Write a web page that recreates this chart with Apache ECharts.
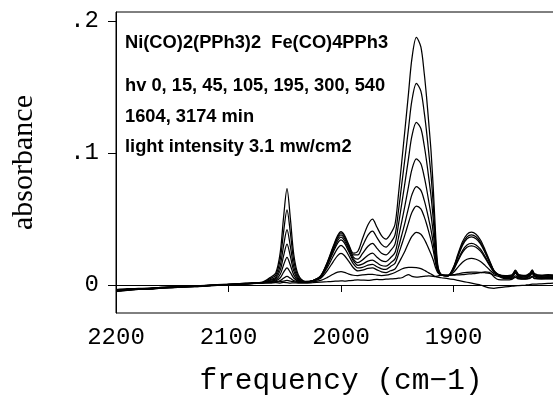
<!DOCTYPE html>
<html>
<head>
<meta charset="utf-8">
<script src="https://cdn.jsdelivr.net/npm/echarts@6/dist/echarts.min.js"></script>
<style>
  html, body { margin: 0; padding: 0; background: #fff; }
  #chart { width: 553px; height: 395px; }
</style>
</head>
<body>
<div id="chart"></div>
<script>
// wavenumbers (cm-1), shared by every trace
var freq = [2200, 2190, 2180, 2170, 2160, 2150, 2140, 2130, 2120, 2110, 2100, 2090, 2080, 2070,
  2063, 2058, 2054, 2051, 2048, 2045, 2042, 2038, 2032,
  2025, 2018, 2012, 2007, 2003, 2000, 1997, 1993, 1989, 1985, 1981, 1976, 1972, 1968, 1964, 1960, 1956, 1952,
  1949, 1946, 1943, 1940, 1937, 1933, 1929, 1926, 1924, 1922, 1920, 1918, 1916, 1914, 1911,
  1905, 1900, 1896, 1892, 1888, 1884, 1880, 1876, 1872, 1868, 1864, 1860,
  1854, 1848, 1845, 1842, 1836, 1832, 1830, 1828, 1822, 1816, 1811];

// absorbance per irradiation time (min)
var abs0 = [-0.0035, -0.0028, -0.0026, -0.0024, -0.0017, -0.0015, -0.0008, -0.0009, -0.0002, 0.0002, 0.0006, 0.0011, 0.0016, 0.0022,
  0.0056, 0.0091, 0.0247, 0.0517, 0.073, 0.0503, 0.0233, 0.0077, 0.0027,
  0.0034, 0.0071, 0.0177, 0.0291, 0.0375, 0.0405, 0.0379, 0.0305, 0.0241, 0.0256, 0.0348, 0.0457, 0.05, 0.0437, 0.0375, 0.0348, 0.0387, 0.0459,
  0.0679, 0.0934, 0.1189, 0.1452, 0.1713, 0.1876, 0.1803, 0.1602, 0.1429, 0.1228, 0.1018, 0.0736, 0.0399, 0.0153, 0.008,
  0.007, 0.0136, 0.0235, 0.0327, 0.0384, 0.04, 0.0384, 0.0341, 0.0268, 0.0186, 0.011, 0.008,
  0.0072, 0.0078, 0.0112, 0.0079, 0.0073, 0.0092, 0.0114, 0.0086, 0.0074, 0.0078, 0.0076];
var abs15 = [-0.0045, -0.0032, -0.0031, -0.003, -0.0019, -0.0019, -0.0012, -0.0011, -0.0004, -0.0001, 0.0005, 0.0009, 0.0013, 0.0019,
  0.0048, 0.0075, 0.0196, 0.0405, 0.057, 0.0394, 0.0185, 0.0064, 0.0026,
  0.0034, 0.0069, 0.0173, 0.0284, 0.0365, 0.0395, 0.0369, 0.0295, 0.0229, 0.0228, 0.0293, 0.0378, 0.0409, 0.0359, 0.0308, 0.0287, 0.032, 0.0379,
  0.0557, 0.0764, 0.097, 0.1185, 0.1396, 0.1528, 0.1469, 0.1306, 0.1166, 0.1003, 0.0833, 0.0607, 0.0336, 0.0139, 0.008,
  0.0072, 0.0132, 0.0225, 0.0312, 0.0365, 0.038, 0.0365, 0.0324, 0.0256, 0.0179, 0.0107, 0.0079,
  0.0068, 0.0074, 0.0108, 0.0075, 0.0069, 0.0086, 0.0109, 0.008, 0.0071, 0.0073, 0.0071];
var abs45 = [-0.0042, -0.0038, -0.0029, -0.0027, -0.0022, -0.0016, -0.0014, -0.0008, -0.0006, 0.0001, 0.0002, 0.0007, 0.0014, 0.0018,
  0.004, 0.006, 0.0148, 0.03, 0.042, 0.0292, 0.014, 0.0052, 0.0024,
  0.0031, 0.0068, 0.0167, 0.0274, 0.0352, 0.038, 0.0355, 0.0282, 0.0212, 0.0196, 0.0237, 0.0294, 0.0316, 0.0278, 0.0241, 0.0229, 0.026, 0.031,
  0.0453, 0.0616, 0.0783, 0.0958, 0.1127, 0.1232, 0.1185, 0.1055, 0.0942, 0.0812, 0.0676, 0.0497, 0.0283, 0.0127, 0.0079,
  0.0071, 0.0129, 0.0218, 0.03, 0.035, 0.0365, 0.035, 0.0312, 0.0247, 0.0173, 0.0105, 0.0078,
  0.0064, 0.0071, 0.0103, 0.007, 0.0066, 0.0082, 0.0104, 0.0076, 0.0066, 0.0068, 0.0066];
var abs105 = [-0.0048, -0.0036, -0.0033, -0.0026, -0.0021, -0.0018, -0.0011, -0.0012, -0.0004, -0.0002, 0.0004, 0.0006, 0.0011, 0.0017,
  0.0035, 0.0049, 0.0113, 0.0223, 0.031, 0.0217, 0.0107, 0.0043, 0.0023,
  0.0033, 0.0065, 0.016, 0.0261, 0.0335, 0.0362, 0.0337, 0.0267, 0.0197, 0.0169, 0.0189, 0.0226, 0.0241, 0.0211, 0.0185, 0.0178, 0.0207, 0.0246,
  0.0356, 0.0481, 0.0609, 0.0745, 0.0874, 0.0955, 0.0919, 0.0819, 0.0733, 0.0634, 0.053, 0.0395, 0.0233, 0.0116, 0.0078,
  0.007, 0.0119, 0.0193, 0.0261, 0.0303, 0.0315, 0.0303, 0.0271, 0.0217, 0.0156, 0.0099, 0.0077,
  0.0059, 0.0066, 0.0098, 0.0066, 0.006, 0.0077, 0.0099, 0.0071, 0.0061, 0.0063, 0.006];
var abs195 = [-0.0038, -0.0034, -0.0028, -0.0029, -0.002, -0.0014, -0.0013, -0.0009, -0.0007, 0, 0.0001, 0.0009, 0.0012, 0.0016,
  0.003, 0.0039, 0.0081, 0.0153, 0.021, 0.0149, 0.0077, 0.0035, 0.0022,
  0.0032, 0.0063, 0.0152, 0.0247, 0.0317, 0.0342, 0.0319, 0.0252, 0.0183, 0.0149, 0.0158, 0.0181, 0.0189, 0.0168, 0.0148, 0.0143, 0.0167, 0.0198,
  0.0283, 0.0378, 0.0477, 0.0584, 0.0683, 0.0745, 0.0717, 0.0641, 0.0575, 0.0498, 0.0418, 0.0317, 0.0195, 0.0108, 0.0077,
  0.0069, 0.0115, 0.0183, 0.0247, 0.0286, 0.0297, 0.0286, 0.0256, 0.0206, 0.0149, 0.0097, 0.0077,
  0.0056, 0.0062, 0.0094, 0.0061, 0.0055, 0.0072, 0.0094, 0.0066, 0.0056, 0.0058, 0.0055];
var abs300 = [-0.0044, -0.0039, -0.0032, -0.0031, -0.0023, -0.0019, -0.0015, -0.001, -0.0005, -0.0001, 0.0003, 0.0007, 0.001, 0.0017,
  0.0026, 0.0031, 0.0055, 0.0097, 0.013, 0.0095, 0.0053, 0.0029, 0.0021,
  0.0031, 0.0058, 0.0135, 0.0218, 0.0278, 0.03, 0.0279, 0.0222, 0.0161, 0.0129, 0.0134, 0.015, 0.0157, 0.0138, 0.0123, 0.0119, 0.0141, 0.0164,
  0.0231, 0.0307, 0.0385, 0.0471, 0.0549, 0.0598, 0.0576, 0.0516, 0.0464, 0.0403, 0.034, 0.0263, 0.0169, 0.0102, 0.0076,
  0.0069, 0.0096, 0.0136, 0.0173, 0.0195, 0.0202, 0.0195, 0.0178, 0.0149, 0.0116, 0.0086, 0.0074,
  0.0052, 0.0057, 0.009, 0.0057, 0.0051, 0.0068, 0.009, 0.0062, 0.0051, 0.0053, 0.005];
var abs540 = [-0.004, -0.0033, -0.003, -0.0025, -0.0018, -0.0017, -0.0012, -0.0008, -0.0003, 0.0001, 0.0004, 0.001, 0.0013, 0.0019,
  0.0022, 0.0025, 0.0034, 0.0052, 0.0065, 0.0051, 0.0034, 0.0024, 0.002,
  0.0029, 0.0051, 0.0111, 0.0176, 0.0223, 0.024, 0.0224, 0.0179, 0.0131, 0.0107, 0.0112, 0.0126, 0.013, 0.0115, 0.01, 0.0094, 0.0108, 0.0121,
  0.0162, 0.021, 0.026, 0.0318, 0.0368, 0.0399, 0.0385, 0.0347, 0.0313, 0.0275, 0.0235, 0.0189, 0.0133, 0.0094, 0.0075,
  0.0072, 0.0078, 0.0085, 0.0092, 0.0096, 0.0098, 0.0097, 0.0095, 0.0093, 0.0088, 0.0075, 0.0065,
  0.0048, 0.005, 0.007, 0.005, 0.0046, 0.0056, 0.0068, 0.0052, 0.0046, 0.0047, 0.0045];
var abs1604 = [-0.005, -0.004, -0.0034, -0.003, -0.0024, -0.002, -0.0016, -0.0013, -0.0008, -0.0003, 0.0001, 0.0006, 0.0011, 0.0016,
  0.002, 0.0022, 0.0026, 0.003, 0.0035, 0.003, 0.0025, 0.002, 0.002,
  0.0024, 0.0035, 0.0058, 0.0082, 0.0097, 0.0101, 0.0096, 0.0083, 0.0074, 0.0072, 0.0076, 0.008, 0.0081, 0.0075, 0.0072, 0.0074, 0.0082, 0.0095,
  0.0108, 0.0121, 0.0129, 0.0133, 0.0134, 0.0131, 0.0124, 0.0112, 0.0102, 0.0092, 0.0083, 0.0073, 0.0065, 0.0068, 0.0074,
  0.0076, 0.0075, 0.0077, 0.0079, 0.0082, 0.0085, 0.0088, 0.0093, 0.0099, 0.0096, 0.0062, 0.0041,
  0.0039, 0.0043, 0.0058, 0.0046, 0.0044, 0.005, 0.0062, 0.0048, 0.0047, 0.0049, 0.005];
var abs3174 = [-0.0046, -0.0037, -0.0031, -0.0028, -0.0021, -0.0016, -0.0014, -0.0011, -0.0006, -0.0002, 0.0002, 0.0008, 0.0012, 0.0015,
  0.0015, 0.0018, 0.0015, 0.002, 0.0018, 0.0015, 0.0017, 0.0015, 0.0015,
  0.0018, 0.0022, 0.0025, 0.0028, 0.003, 0.0031, 0.003, 0.0033, 0.0036, 0.0038, 0.0037, 0.0036, 0.0039, 0.0042, 0.0041, 0.0044, 0.0046, 0.0049,
  0.0052, 0.0055, 0.0068, 0.0079, 0.0066, 0.006, 0.0063, 0.0066, 0.0068, 0.0069, 0.0068, 0.0066, 0.0063, 0.006, 0.0055,
  0.0049, 0.0042, 0.0035, 0.0028, 0.0021, 0.0014, 0.0007, 0, -0.0012, -0.0022, -0.0025, -0.002,
  -0.0014, -0.0009, -0.0006, -0.0004, 0, 0.0003, 0.0006, 0.0006, 0.0009, 0.0012, 0.0014];

var times = ['0', '15', '45', '105', '195', '300', '540', '1604', '3174'];
var traces = [abs0, abs15, abs45, abs105, abs195, abs300, abs540, abs1604, abs3174];
var yTicks = [0, 0.1, 0.2];
var notes = ['Ni(CO)2(PPh3)2  Fe(CO)4PPh3', 'hv 0, 15, 45, 105, 195, 300, 540', '1604, 3174 min', 'light intensity 3.1 mw/cm2'];

var chart = echarts.init(document.getElementById('chart'), null, { renderer: 'canvas' });

var series = traces.map(function (arr, k) {
  return {
    name: times[k] + ' min',
    type: 'line',
    data: freq.map(function (f, i) { return [f, arr[i]]; }),
    showSymbol: false,
    smooth: 0.3,
    lineStyle: { color: '#000', width: 1.25 },
    emphasis: { disabled: true },
    animation: false
  };
});

var noteY = [43, 85.5, 117, 146.5];

var option = {
  animation: false,
  // plot runs past the right edge of the window, like the original
  grid: { left: 116, top: 12, width: 450, height: 301, outerBoundsMode: 'none', containLabel: false,
    show: true, borderColor: '#000', borderWidth: 1 },
  xAxis: {
    type: 'value', inverse: true, min: 1800, max: 2200, interval: 100,
    name: 'frequency (cm\u22121)', nameLocation: 'middle', nameGap: 53,
    nameTextStyle: { fontFamily: 'Liberation Mono', fontSize: 29.5, color: '#000' },
    axisLine: { lineStyle: { color: '#000', width: 1 } },
    axisTick: { length: 7, lineStyle: { color: '#000' } },
    axisLabel: {
      fontFamily: 'Liberation Mono', fontSize: 24, color: '#000', margin: 13,
      formatter: function (v) { return v < 1850 ? '' : String(v); }
    },
    splitLine: { show: false }
  },
  yAxis: {
    type: 'value', min: -0.0212, max: 0.2068,
    name: 'absorbance', nameLocation: 'middle', nameGap: 77,
    nameTextStyle: { fontFamily: 'Liberation Serif', fontSize: 30, color: '#000' },
    axisLine: { show: true, lineStyle: { color: '#000', width: 1 } },
    axisTick: { show: true, length: 8, customValues: yTicks, lineStyle: { color: '#000' } },
    axisLabel: {
      customValues: yTicks, fontFamily: 'Liberation Mono', fontSize: 24, color: '#000', margin: 17,
      formatter: function (v) { return v === 0 ? '0' : String(v).replace('0.', '.'); }
    },
    splitLine: { show: false }
  },
  graphic: notes.map(function (t, i) {
    return {
      type: 'text', x: 125, y: noteY[i], z: 100,
      style: { text: t, font: 'bold 18.3px "Liberation Sans"', fill: '#000', verticalAlign: 'middle', align: 'left' }
    };
  }),
  series: series
};

chart.setOption(option);
</script>
</body>
</html>
